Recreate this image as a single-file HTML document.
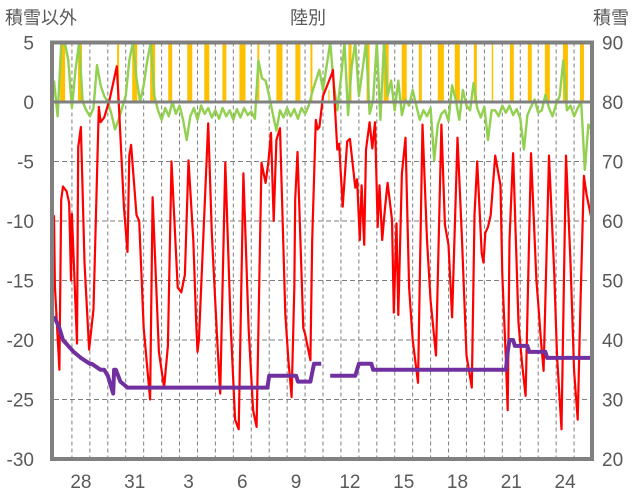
<!DOCTYPE html>
<html><head><meta charset="utf-8">
<style>
body{margin:0;background:#fff;}
svg{display:block;font-family:"Liberation Sans","Noto Sans CJK JP",sans-serif;}
</style></head>
<body>
<svg id="chart" width="636" height="501" viewBox="0 0 636 501">
  <text x="5" y="24" font-size="18" fill="#595959">積雪以外</text>
  <text x="308" y="24" font-size="18" fill="#595959" text-anchor="middle">陸別</text>
  <text x="629" y="24" font-size="18" fill="#595959" text-anchor="end">積雪</text>
  <g id="grid"></g>
  <g id="bars"></g>
  <g id="series"></g>
  <g id="frame"></g>
  <g id="ticks"></g>
</svg>
<script>
// ---- data (time in days from the 27th) ----
const leftTicks = [5, 0, -5, -10, -15, -20, -25, -30];
const rightTicks = [90, 80, 70, 60, 50, 40, 30, 20];
const xLabels = ["28","31","3","6","9","12","15","18","21","24"];
const xLabelDays = [1, 4, 7, 10, 13, 16, 19, 22, 25, 28];
const dayCount = 30;

const redT = [0.0,0.05,0.3,0.4,0.5,0.7,0.85,0.95,1.0,1.28,1.35,1.5,1.7,1.96,2.2,2.5,2.6,2.8,3.1,3.5,3.6,3.9,4.1,4.2,4.3,4.6,4.75,5.0,5.36,5.5,5.85,6.14,6.35,6.55,6.9,7.1,7.3,7.5,7.77,7.93,8.0,8.08,8.6,8.8,9.1,9.27,9.55,9.85,10.1,10.3,10.56,10.85,11.1,11.3,11.57,11.8,11.95,12.1,12.25,12.4,12.6,12.9,13.07,13.25,13.4,13.45,13.58,13.9,14.0,14.3,14.4,14.6,14.7,14.8,15.0,15.5,15.55,15.8,15.9,16.1,16.35,16.5,16.8,16.9,17.05,17.15,17.3,17.4,17.6,17.75,17.9,18.05,18.15,18.3,18.45,18.6,18.85,18.95,19.1,19.2,19.4,19.6,19.8,20.0,20.3,20.55,20.8,21.0,21.3,21.6,21.8,22.0,22.2,22.5,22.75,23.0,23.3,23.45,23.6,23.85,23.95,24.05,24.2,24.35,24.6,24.9,25.0,25.2,25.3,25.4,25.6,25.9,26.1,26.3,26.45,26.6,26.9,27.0,27.15,27.3,27.6,27.9,28.05,28.3,28.55,28.8,29.0,29.2,29.35,29.55,29.7,30.0];
const redV = [-9.5,-15.5,-22.5,-8.2,-7.1,-7.5,-8.5,-15,-9.4,-20.3,-3.8,-2.1,-13.5,-20.8,-17.4,-0.4,-1.7,-1.3,0.2,3,0.2,-8.8,-12.6,-4.5,-3.6,-9.5,-10,-19,-25,-8,-21,-24,-20.5,-5,-15.6,-16,-14.5,-4.9,-11.6,-18.6,-21,-20,-1.8,-11,-20,-24.5,-5.1,-18.6,-26.7,-27.5,-6,-19,-25.9,-27.3,-5.1,-6.8,-5.1,-2.6,-10,-3.2,-2.2,-17.8,-21.7,-24.8,-15.7,-8.2,-4.2,-19,-19.5,-21.7,-11.6,-1.5,-2.3,-2.1,0.5,2.4,2.7,-4,-3.5,-8.8,-3.3,-3.1,-7.2,-6.5,-11.6,-7,-12,-4,-1.7,-3.9,-1.7,-10.5,-7,-11.6,-9,-6.8,-9.9,-17.7,-10.2,-17.9,-6,-3,-15.6,-20,-23.6,-1.9,-11.6,-16.7,-21.3,-1.9,-10.3,-12,-18.1,-3,-11.6,-21.3,-24,-9.5,-5,-12.7,-13.5,-11,-10.5,-9.5,-4.5,-7,-14.5,-21.7,-25.9,-11.6,-4.3,-18.6,-22,-24.7,-14.5,-4.3,-15,-16.9,-20,-22.6,-4.5,-14.5,-21.3,-27.5,-4.5,-13.5,-22.6,-26.7,-17.5,-6.2,-7.8,-10];

// green series sampled every 0.2 day
const greenStep = 0.2;
const greenV = [1.8,-1.2,4.8,5,3.5,-0.5,
 2.7,5,0,-0.7,-1.2, -0.5,3.1,1.4,0.5,0, -1,-2.3,-1.5,-0.5,0.5, 3.5,5,2,0,1.4,
 3.5,5,0.5,-0.7,-1.5, -0.5,-1.2,0,-1,-0.3, -1.5,-3.2,-1.2,-0.5,-1.5, -0.3,-1,-0.5,-1.3,-0.7,
 -1.4,-0.5,-1.2,-0.7,-1.5, -0.6,-1.3,-0.5,-1.1,-0.8, -1.4,3.5,2,1.8,0.5, -1,-2.4,-0.7,-1.3,-0.5,
 -1.2,-0.6,-1.4,-0.5,-1, -0.3,0.8,1.8,2.7,1, 3,5,1.5,-0.7,2, 5,-1.1,3,5,0.5,
 2.7,5,-1,0.2,5, -1.5,5,0.5,1.8,-0.7, 1.8,-1.1,0.2,-0.3,1, -0.3,-1.5,-0.7,-1.2,-0.5,
 -4.9,-1.9,-1,-0.7,-1.6, 1.4,0.2,-1.5,1,-0.3, -0.7,1.6,-0.5,-1.3,-0.4, -3.2,-0.7,-0.7,-1.2,-0.3,
 -0.9,-0.3,-1.1,-0.6,-1.4, -4,-1.1,-0.4,0.2,-0.9, -0.7,0.6,-0.5,-1.2,-0.2, 0.5,3.5,-0.7,-0.3,-1.2,
 -0.5,0,-5.7,-1.9,-2.4];

// snow depth on right axis, null = missing
const purpleT = [0,0.3,0.5,0.8,1.1,1.5,2.0,2.1,2.6,2.8,3.0,3.3,3.35,3.45,3.7,4.1,5.0,6.0,7.0,8.0,9.0,10.0,11.0,11.9,12.0,13.5,13.6,14.3,14.5,14.9,15.1,15.3,15.4,16.8,17.0,17.7,17.8,19.0,20.0,21.0,22.0,23.0,24.0,25.2,25.3,25.4,25.6,25.7,26.4,26.5,27.4,27.5,28.5,30.0];
const purpleR = [44,42,40,39,38,37,36,36,35,35,34,31,35,35,33,32,32,32,32,32,32,32,32,32,34,34,33,33,36,36,null,null,34,34,36,36,35,35,35,35,35,35,35,35,38,40,40,39,39,38,38,37,37,37];

const barStart = [0.34,1.34,3.52,4.36,5.36,6.37,7.43,8.38,9.39,10.34,11.34,12.4,13.46,14.3,15.3,16.42,17.43,18.38,19.39,20.34,21.4,22.35,23.41,24.41,25.42,26.42,27.37,28.38,29.33];
const barDur = [0.28,0.22,0.11,0.28,0.28,0.22,0.28,0.28,0.22,0.34,0.11,0.34,0.28,0.11,0.06,0.17,0.17,0.28,0.28,0.17,0.34,0.28,0.17,0.08,0.22,0.22,0.28,0.28,0.22];
const barVal = [6,6,6,6,6,6,6,6,6,6,6,6,6,6,1,6,6,6,6,6,6,6,6,6,6,6,6,6,6];

// ---- scales ----
const X0 = 54, X1 = 592, Y5 = 42.5, Ym30 = 459;
const xs = d => X0 + d * (X1 - X0) / dayCount;
const yL = v => Y5 + (5 - v) * (Ym30 - Y5) / 35;
const yR = r => Y5 + (90 - r) * (Ym30 - Y5) / 70;
const NS = "http://www.w3.org/2000/svg";
function mk(tag, attrs, parent){const e=document.createElementNS(NS,tag);for(const k in attrs)e.setAttribute(k,attrs[k]);parent.appendChild(e);return e;}

const grid = document.getElementById('grid');
leftTicks.forEach(v=>{
  if (v===5||v===0||v===-30) return;
  const l = mk('line',{x1:X0,x2:X1,y1:yL(v),y2:yL(v),stroke:'#7f7f7f','stroke-width':1,'stroke-dasharray':'5,3'},grid);
  
  
});
for(let d=1; d<dayCount; d++){
  const l = mk('line',{x1:xs(d),x2:xs(d),y1:Y5,y2:Ym30,stroke:'#7f7f7f','stroke-width':1,'stroke-dasharray':'4,3'},grid);
  
  
}

const bars = document.getElementById('bars');
barStart.forEach((s,i)=>{
  const v = Math.min(barVal[i],5);
  const r = mk('rect',{x:xs(s),y:yL(v),width:Math.max(1,xs(s+barDur[i])-xs(s)),height:yL(0)-yL(v),fill:'#ffc000'},bars);
  
  
});

const series = document.getElementById('series');
function path(T,V,yf,col,w,name){
  let d='',pen=false;
  T.forEach((t,i)=>{
    if(V[i]===null){pen=false;return;}
    d += (pen?'L':'M') + xs(t).toFixed(1) + ',' + yf(V[i]).toFixed(1);
    pen=true;
  });
  const p = mk('path',{d:d,fill:'none',stroke:col,'stroke-width':w,'stroke-linejoin':'round'},series);
  
  
}
const greenT = greenV.map((v,i)=>i*greenStep);
path(greenT,greenV.map(v=>Math.max(Math.min(v,5),-30)),yL,'#92d050',2.4,'green-series-line');
path(redT,redV,yL,'#ff0000',2.2,'temperature-line');
path(purpleT,purpleR,yR,'#7030a0',4,'snow-depth-line');

const frame = document.getElementById('frame');
const f1 = mk('rect',{x:X0-2,y:Y5,width:X1-X0+2,height:Ym30-Y5,fill:'none',stroke:'#808080','stroke-width':4},frame);


const z = mk('line',{x1:X0,x2:X1,y1:yL(0),y2:yL(0),stroke:'#808080','stroke-width':3},frame);



const ticks = document.getElementById('ticks');
leftTicks.forEach(v=>{
  const t = mk('text',{x:34,y:yL(v)+7,'font-size':19,fill:'#595959','text-anchor':'end'},ticks);
  t.textContent = v;
  
  
});
rightTicks.forEach(r=>{
  const t = mk('text',{x:602,y:yR(r)+7,'font-size':19,fill:'#595959'},ticks);
  t.textContent = r;
  
  
});
xLabels.forEach((s,i)=>{
  const t = mk('text',{x:xs(xLabelDays[i]+0.5),y:488,'font-size':19,fill:'#595959','text-anchor':'middle'},ticks);
  t.textContent = s;
  
  
});
</script>
</body></html>
